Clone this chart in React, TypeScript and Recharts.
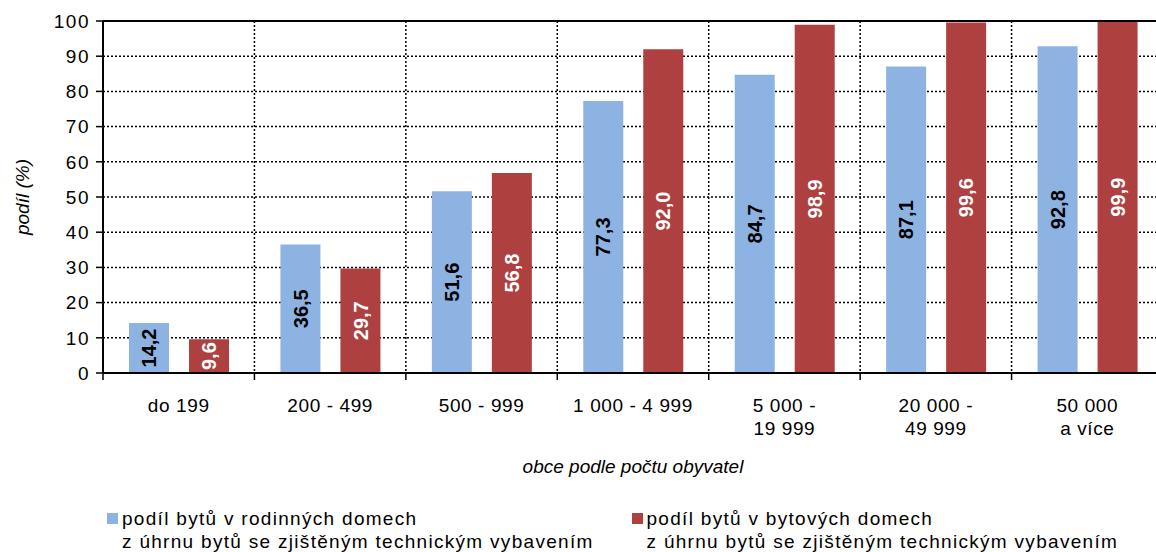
import React from 'react';
import { BarChart, Bar, XAxis, YAxis, CartesianGrid, Legend, LabelList, ReferenceLine } from 'recharts';

const categories = ['do 199', '200 - 499', '500 - 999', '1 000 - 4 999', '5 000 -\n19 999', '20 000 -\n49 999', '50 000\na více'];
const rodinne = [14.2, 36.5, 51.6, 77.3, 84.7, 87.1, 92.8];
const bytove = [9.6, 29.7, 56.8, 92.0, 98.9, 99.6, 99.9];
const yTicks = [0, 10, 20, 30, 40, 50, 60, 70, 80, 90, 100];
const seriesOrder = ['rodinne', 'bytove'];

const data = categories.map((c, i) => ({ cat: c, rodinne: rodinne[i], bytove: bytove[i] }));

const FONT = '"Liberation Sans", Arial, sans-serif';
const BLUE = '#8DB3E2';
const RED = '#AE4040';

const fmt = (v: number) => v.toFixed(1).replace('.', ',');

// category label plus a tick mark on the left category boundary
const CatTick = (props: any) => {
  const { x, y, payload, width, index } = props;
  const lines = String(payload.value).split('\n');
  const half = width / categories.length / 2;
  return (
    <g>
      <line x1={x - half} x2={x - half} y1={y} y2={y + 7} stroke="#000" strokeWidth={1.5} />
      {index === categories.length - 1 && (
        <line x1={x + half} x2={x + half} y1={y} y2={y + 7} stroke="#000" strokeWidth={1.5} />
      )}
      <text x={x} y={y + 39} textAnchor="middle" fill="#000" fontSize={19} fontFamily={FONT} letterSpacing={0.6}>
        {lines.map((l, i) => (
          <tspan key={i} x={x} dy={i === 0 ? 0 : 23}>{l}</tspan>
        ))}
      </text>
    </g>
  );
};

const YTitle = (props: any) => {
  const { x, y, height } = props.viewBox;
  const cx = x + 29;
  const cy = y + height / 2;
  return (
    <text x={cx} y={cy} transform={`rotate(-90 ${cx} ${cy})`} textAnchor="middle" fontSize={19} fontStyle="italic" fontFamily={FONT} fill="#000">
      podíl (%)
    </text>
  );
};

const LegendContent = (props: any) => {
  const items = [...props.payload].sort((a: any, b: any) => seriesOrder.indexOf(a.dataKey) - seriesOrder.indexOf(b.dataKey));
  return (
    <div style={{ display: 'flex', paddingLeft: 107, fontFamily: FONT, fontSize: 19, lineHeight: '23px', color: '#000', letterSpacing: 1.3 }}>
      {items.map((p: any) => (
        <div key={p.value} style={{ width: 536, display: 'flex', alignItems: 'flex-start' }}>
          <span style={{ width: 11, height: 11, background: p.color, marginTop: 6, marginRight: 4, flexShrink: 0 }} />
          <span style={{ whiteSpace: 'pre-line' }}>{p.value}</span>
        </div>
      ))}
    </div>
  );
};

const App: React.FC = () => (
  <div style={{ position: 'absolute', left: 0, top: 0, width: 1156, height: 552, overflow: 'hidden', background: '#fff' }}>
    <BarChart width={1170} height={552} data={data} margin={{ top: 21, right: 7, left: 0, bottom: 79 }}
      barSize={40} barGap={20} style={{ fontFamily: FONT }}>
      <CartesianGrid stroke="#000" strokeWidth={1.5} strokeDasharray="2 2"
        verticalCoordinatesGenerator={({ offset }: any) =>
          categories.map((_, i) => offset.left + (i * offset.width) / categories.length)} />
      <XAxis dataKey="cat" height={100} interval={0} tick={<CatTick />} tickLine={false} tickSize={0} tickMargin={0}
        axisLine={{ stroke: '#000', strokeWidth: 2 }}
        label={{ value: 'obce podle počtu obyvatel', position: 'insideBottom', offset: 0, fontSize: 19, fontStyle: 'italic', fill: '#000', fontFamily: FONT }} />
      <YAxis domain={[0, 100]} ticks={yTicks} width={103} tickSize={7} tickMargin={6} interval={0}
        tick={{ fill: '#000', fontSize: 19, fontFamily: FONT, letterSpacing: 1.5 }} axisLine={{ stroke: '#000', strokeWidth: 2 }}
        tickLine={{ stroke: '#000', strokeWidth: 1.5 }} label={<YTitle />} />
      <ReferenceLine y={100} stroke="#000" strokeWidth={2} />
      <Legend verticalAlign="middle" align="center" layout="horizontal" content={<LegendContent />}
        wrapperStyle={{ top: 507, left: 0, width: 1156 }} />
      <Bar dataKey="rodinne" name={'podíl bytů v rodinných domech\nz úhrnu bytů se zjištěným technickým vybavením'} fill={BLUE} isAnimationActive={false}>
        <LabelList dataKey="rodinne" position="center" angle={-90} formatter={(v: any) => fmt(v)}
          style={{ fill: '#000', fontSize: 20, fontWeight: 'bold', fontFamily: FONT }} />
      </Bar>
      <Bar dataKey="bytove" name={'podíl bytů v bytových domech\nz úhrnu bytů se zjištěným technickým vybavením'} fill={RED} isAnimationActive={false}>
        <LabelList dataKey="bytove" position="center" angle={-90} formatter={(v: any) => fmt(v)}
          style={{ fill: '#fff', fontSize: 20, fontWeight: 'bold', fontFamily: FONT }} />
      </Bar>
    </BarChart>
  </div>
);

export default App;
